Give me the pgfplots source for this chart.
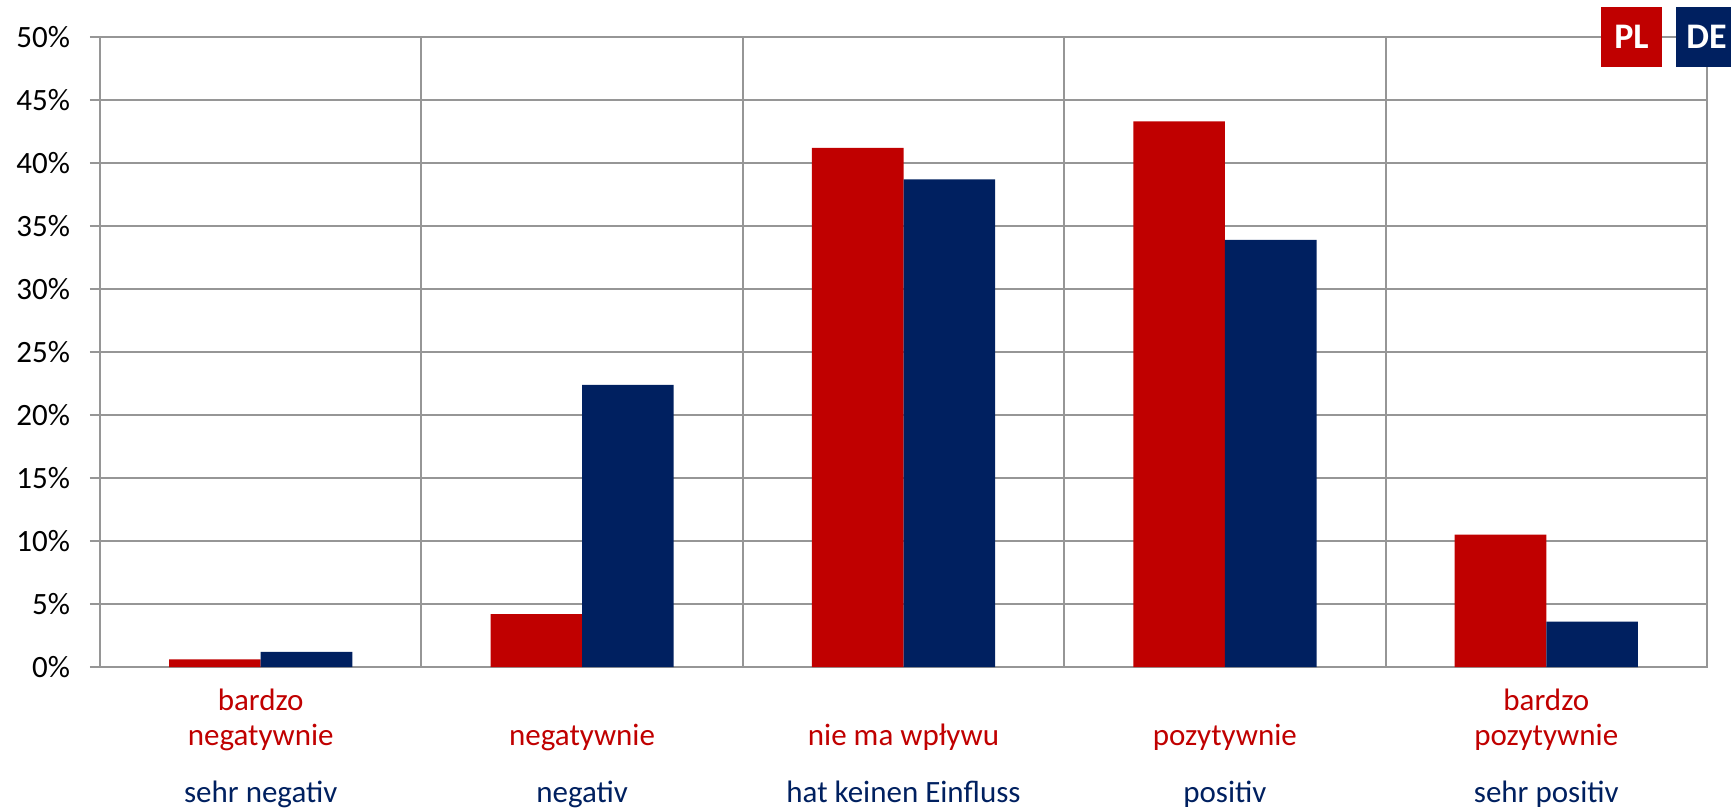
\documentclass[border=0pt]{standalone}
\usepackage{pgfplots}
\pgfplotsset{compat=1.18}
\usepackage{fontspec}
\setmainfont{Carlito}
\definecolor{plred}{RGB}{192,0,0}
\definecolor{deblue}{RGB}{0,32,96}
\definecolor{gridgray}{RGB}{150,150,150}
\begin{document}
\begin{tikzpicture}
\begin{axis}[
 at={(0,0)}, anchor=south west,
 scale only axis, width=803.5pt, height=315pt,
 xmin=-0.5, xmax=4.5, ymin=0, ymax=50,
 ytick={0,5,...,50},
 yticklabel={\pgfmathprintnumber{\tick}\%},
 /pgf/number format/assume math mode=true,
 xtick={0,1,2,3,4},
 xticklabels={
  {\strut\textcolor{plred}{bardzo}\\\textcolor{plred}{negatywnie}\\[11pt]\textcolor{deblue}{sehr negativ}},
  {\strut\\\textcolor{plred}{negatywnie}\\[11pt]\textcolor{deblue}{negativ}},
  {\strut\\\textcolor{plred}{nie ma wpływu}\\[11pt]\textcolor{deblue}{hat keinen Einfluss}},
  {\strut\\\textcolor{plred}{pozytywnie}\\[11pt]\textcolor{deblue}{positiv}},
  {\strut\textcolor{plred}{bardzo}\\\textcolor{plred}{pozytywnie}\\[11pt]\textcolor{deblue}{sehr positiv}}
 },
 minor xtick={-0.5,0.5,1.5,2.5,3.5,4.5},
 ymajorgrids, xminorgrids,
 grid style={gridgray, line width=1pt},
 minor grid style={gridgray, line width=1pt},
 axis line style={gridgray, line width=1pt},
 major tick length=5pt, minor tick length=0pt, tick align=outside,
 xtick style={draw=none},
 ytick style={gridgray, line width=1pt},
 ytick pos=left, xtick pos=bottom,
 ticklabel style={font=\fontsize{15.5}{17.5}\selectfont},
 xticklabel style={align=center, anchor=north, yshift=-0.8pt},
 yticklabel style={xshift=-6.5pt},
]
\addplot[ybar, fill=plred, draw=none, bar width=0.285, bar shift=-0.1425]
  coordinates {(0,0.6) (1,4.2) (2,41.2) (3,43.3) (4,10.5)};
\addplot[ybar, fill=deblue, draw=none, bar width=0.285, bar shift=0.1425]
  coordinates {(0,1.2) (1,22.4) (2,38.7) (3,33.9) (4,3.6)};
\end{axis}
\node[fill=plred, text=white, font=\bfseries\fontsize{18}{20}\selectfont, minimum width=30.5pt, minimum height=30pt, inner sep=0pt] at (765.75pt,315pt) {PL};
\node[fill=deblue, text=white, font=\bfseries\fontsize{18}{20}\selectfont, minimum width=30.5pt, minimum height=30pt, inner sep=0pt] at (803.25pt,315pt) {DE};
\pgfresetboundingbox
\useasboundingbox (-50pt,-71pt) rectangle (815.5pt,333.5pt);
\end{tikzpicture}
\end{document}
